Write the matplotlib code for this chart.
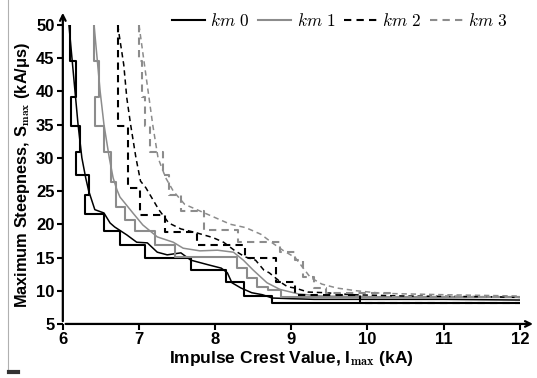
import matplotlib
matplotlib.use('Agg')
import matplotlib.pyplot as plt
from matplotlib.lines import Line2D

plt.rcParams['font.family'] = ['Liberation Sans', 'DejaVu Sans']
plt.rcParams['mathtext.fontset'] = 'cm'

# staircase curves (steps-pre points) and smooth curves, one pair per km
km0_step_x = [6.09, 6.17, 6.105, 6.22, 6.17, 6.34, 6.29, 6.54, 6.75, 7.08, 7.68, 8.14, 8.38, 8.74, 12]
km0_step_y = [50, 44.5, 39.2, 34.8, 30.9, 27.4, 24.4, 21.6, 19.0, 16.9, 14.9, 13.1, 11.3, 9.2, 8.2]
km0_x = [6.08, 6.12, 6.16, 6.20, 6.25, 6.30, 6.34, 6.42, 6.54, 6.62, 6.68, 6.84, 6.97, 7.11, 7.24,
         7.37, 7.55, 7.68, 7.91, 8.08, 8.16, 8.22, 8.34, 8.48, 8.62, 8.75, 9.0, 9.3, 10, 11, 12]
km0_y = [50, 45, 40, 35, 30, 27, 25, 22.2, 21.7, 20.2, 19.6, 18.4, 17.3, 17.2, 15.8,
         15.4, 15.7, 14.6, 13.9, 13.4, 12.7, 11.2, 10.4, 9.7, 9.4, 8.9, 8.8, 8.7, 8.7, 8.7, 8.6]

km1_step_x = [6.41, 6.47, 6.42, 6.54, 6.63, 6.70, 6.82, 6.95, 7.21, 7.47, 8.29, 8.42, 8.55, 8.70, 8.86, 12]
km1_step_y = [50, 44.5, 39.2, 34.8, 30.9, 26.4, 22.6, 20.7, 19.0, 16.9, 15.1, 13.4, 11.9, 10.6, 10.1, 9.1]
km1_x = [6.41, 6.45, 6.49, 6.54, 6.61, 6.66, 6.71, 6.75, 6.92, 7.05, 7.24, 7.45, 7.58, 7.80, 8.03,
         8.24, 8.37, 8.50, 8.68, 8.85, 9.1, 9.4, 10, 11, 12]
km1_y = [50, 45, 40, 35, 30, 27, 25.2, 24.1, 21.7, 19.9, 18.1, 17.3, 16.4, 16.0, 16.1,
         15.8, 14.6, 13.1, 11.2, 10.2, 9.5, 9.2, 9.1, 9.0, 9.0]

km2_step_x = [6.72, 6.86, 7.01, 7.34, 7.76, 8.39, 8.80, 9.05, 9.90, 12]
km2_step_y = [50, 34.8, 25.5, 21.4, 18.9, 16.9, 14.9, 11.3, 9.4, 8.2]
km2_x = [6.72, 6.80, 6.84, 6.89, 6.96, 7.02, 7.09, 7.26, 7.39, 7.55, 7.76, 7.97, 8.11, 8.25, 8.39,
         8.53, 8.64, 8.71, 8.87, 8.95, 9.05, 9.22, 9.45, 9.8, 10.5, 11.5, 12]
km2_y = [50, 44, 39, 35, 30, 26.5, 25.5, 22.2, 20.2, 19.3, 18.7, 18.0, 17.3, 16.1, 15.1,
         14.6, 13.1, 12.7, 11.2, 10.6, 10.4, 9.8, 9.7, 9.4, 9.2, 9.1, 9.0]

km3_step_x = [7.00, 7.04, 7.08, 7.15, 7.32, 7.40, 7.55, 7.85, 8.30, 8.85, 9.05, 9.15, 9.30, 9.45, 10.3, 12]
km3_step_y = [50, 44.5, 39.2, 34.8, 30.9, 27.4, 24.4, 22.0, 19.2, 17.3, 15.8, 14.6, 12.1, 10.4, 9.6, 9.1]
km3_x = [7.00, 7.06, 7.12, 7.18, 7.25, 7.35, 7.45, 7.60, 7.80, 8.00, 8.20, 8.40, 8.60, 8.75, 8.90,
         9.05, 9.15, 9.25, 9.40, 9.60, 9.85, 10.2, 11, 12]
km3_y = [50, 45, 40, 35, 30, 27, 25, 23, 22, 21, 20, 19.5, 18.5, 17.2, 16.0,
         15.0, 13.5, 12.0, 11.0, 10.4, 10.0, 9.6, 9.4, 9.2]

labels = [r'$km\ 0$', r'$km\ 1$', r'$km\ 2$', r'$km\ 3$']
gray = '#8c8c8c'

fig = plt.figure(figsize=(5.37, 3.78), dpi=100)
ax = fig.add_axes([0.117, 0.143, 0.851, 0.791])

dash = (0, (3.5, 2.5))
series = [
    (km0_step_x, km0_step_y, km0_x, km0_y, 'black', '-'),
    (km1_step_x, km1_step_y, km1_x, km1_y, gray, '-'),
    (km2_step_x, km2_step_y, km2_x, km2_y, 'black', dash),
    (km3_step_x, km3_step_y, km3_x, km3_y, gray, dash),
]
handles = []
for sx, sy, cx, cy, col, ls in series:
    h, = ax.plot(sx, sy, drawstyle='steps-pre', color=col, ls=ls, lw=1.5)
    ax.plot(cx, cy, color=col, ls=ls, lw=1.1)
    handles.append(h)

ax.set_xlim(6, 12)
ax.set_ylim(5, 50)
ax.set_xticks(range(6, 13))
ax.set_yticks(range(5, 51, 5))
for s in ['top', 'right', 'left', 'bottom']:
    ax.spines[s].set_visible(False)
ax.tick_params(direction='out', length=4, width=1.5, labelsize=12, pad=2)
for t in ax.get_xticklabels() + ax.get_yticklabels():
    t.set_fontweight('bold')

# arrowed axes
ax.annotate('', xy=(0, 1.05), xytext=(0, 0), xycoords='axes fraction',
            arrowprops=dict(arrowstyle='->', lw=1.6, color='black'), annotation_clip=False)
ax.annotate('', xy=(1.035, 0), xytext=(0, 0), xycoords='axes fraction',
            arrowprops=dict(arrowstyle='->', lw=1.6, color='black'), annotation_clip=False)

ax.set_xlabel(r'Impulse Crest Value, I$_{\mathbf{max}}$ (kA)', fontsize=12.5, fontweight='bold', labelpad=1)
ax.set_ylabel(r'Maximum Steepness, S$_{\mathbf{max}}$ (kA/μs)', fontsize=11.8, fontweight='bold', labelpad=3)

leg = ax.legend(handles, labels, loc='upper right', ncol=4, frameon=False, fontsize=12.5,
                bbox_to_anchor=(0.988, 1.065), handlelength=1.9, handletextpad=0.3, columnspacing=0.5,
                borderaxespad=0)

# page edge marks
fig.add_artist(Line2D([8 / 537, 8 / 537], [0.02, 1.0], color='#b0b0b0', lw=0.8))
fig.add_artist(Line2D([9 / 537, 18 / 537], [6 / 378, 6 / 378], color='#333333', lw=3))

fig.savefig('out.png', dpi=100)
